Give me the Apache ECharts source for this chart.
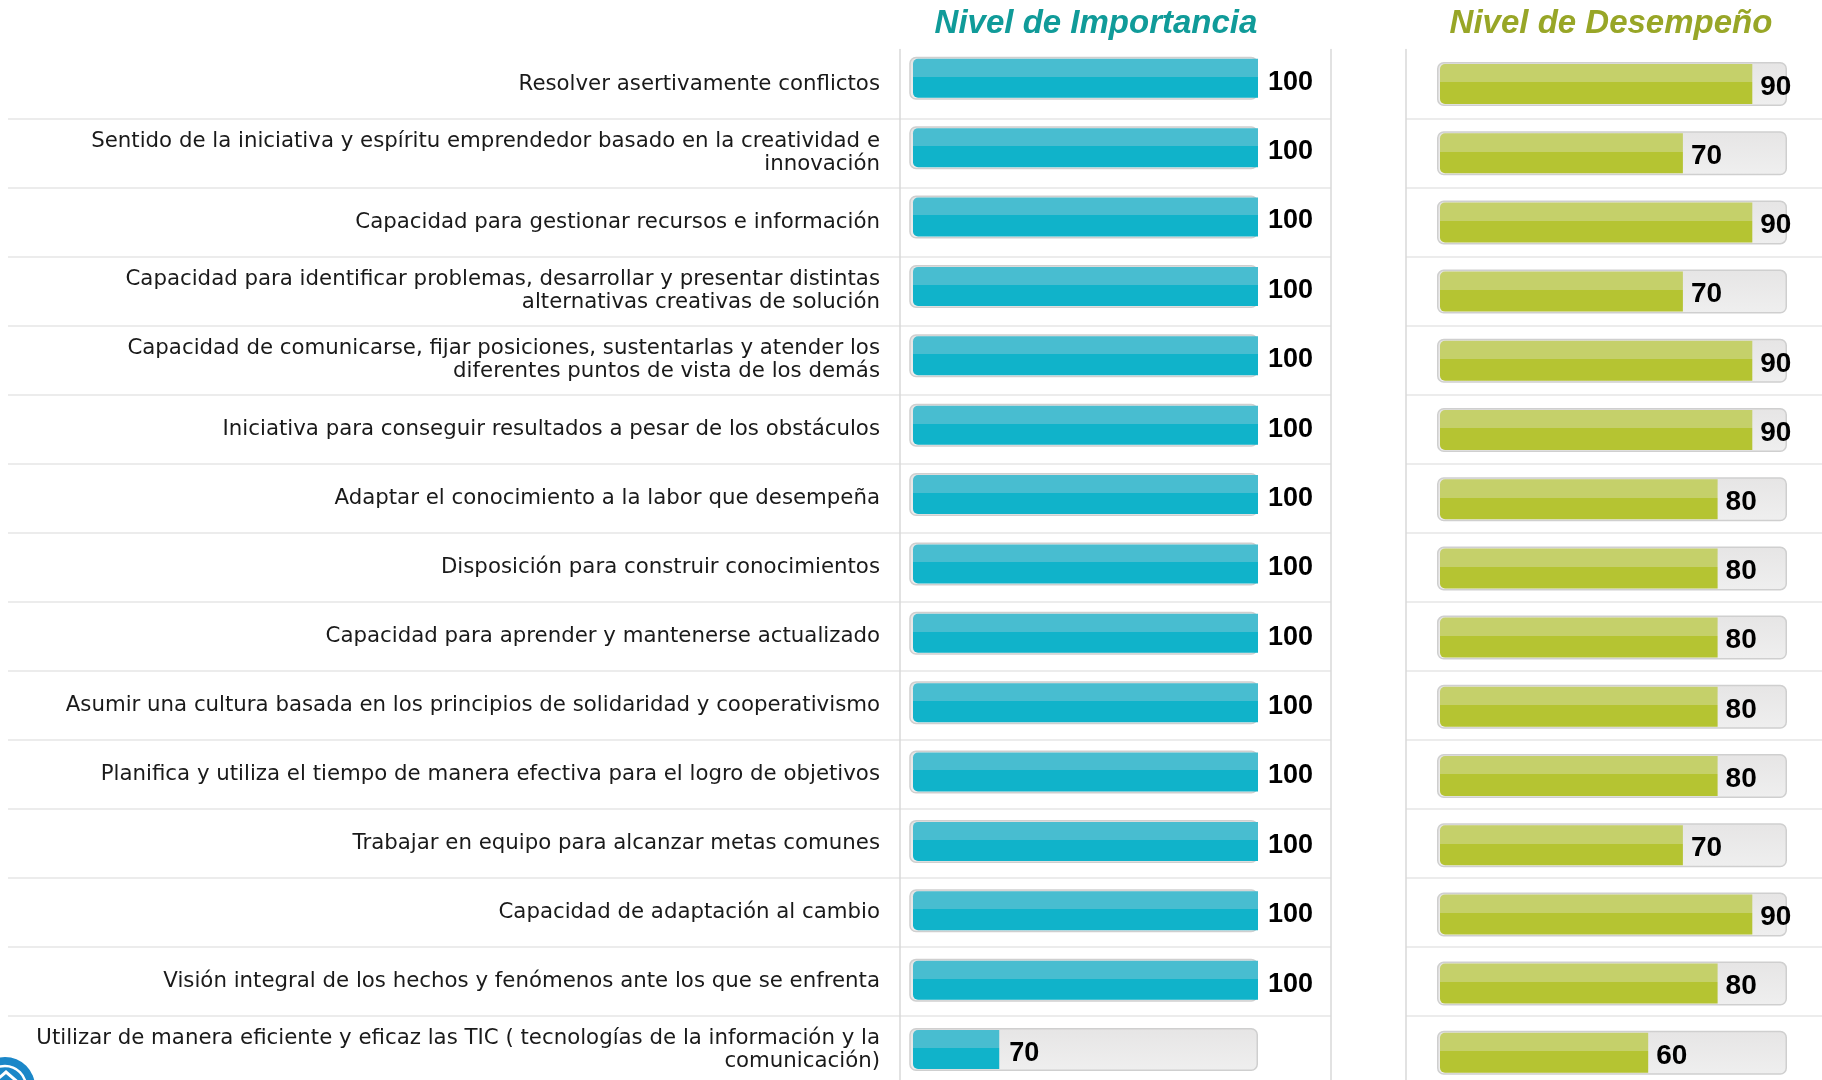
<!DOCTYPE html>
<html>
<head>
<meta charset="utf-8">
<title>Nivel de Importancia / Nivel de Desempeño</title>
<script src="https://cdn.jsdelivr.net/npm/echarts@6/dist/echarts.min.js"></script>
<style>
  html, body { margin: 0; padding: 0; background: #fff; }
  #chart { width: 1822px; height: 1080px; }
</style>
</head>
<body>
<div id="chart"></div>
<script>
// Competencias (de arriba hacia abajo)
const competencias = [
  'Resolver asertivamente conflictos',
  'Sentido de la iniciativa y espíritu emprendedor basado en la creatividad e\ninnovación',
  'Capacidad para gestionar recursos e información',
  'Capacidad para identificar problemas, desarrollar y presentar distintas\nalternativas creativas de solución',
  'Capacidad de comunicarse, fijar posiciones, sustentarlas y atender los\ndiferentes puntos de vista de los demás',
  'Iniciativa para conseguir resultados a pesar de los obstáculos',
  'Adaptar el conocimiento a la labor que desempeña',
  'Disposición para construir conocimientos',
  'Capacidad para aprender y mantenerse actualizado',
  'Asumir una cultura basada en los principios de solidaridad y cooperativismo',
  'Planifica y utiliza el tiempo de manera efectiva para el logro de objetivos',
  'Trabajar en equipo para alcanzar metas comunes',
  'Capacidad de adaptación al cambio',
  'Visión integral de los hechos y fenómenos ante los que se enfrenta',
  'Utilizar de manera eficiente y eficaz las TIC ( tecnologías de la información y la\ncomunicación)'
];

const importancia = [100, 100, 100, 100, 100, 100, 100, 100, 100, 100, 100, 100, 100, 100, 70];
const desempeno = [90, 70, 90, 70, 90, 90, 80, 80, 80, 80, 80, 70, 90, 80, 60];

// Escalas de cada panel [min, max]
const escalaImportancia = [60, 100];
const escalaDesempeno = [0, 100];

const titulos = ['Nivel de Importancia', 'Nivel de Desempeño'];

(function () {
  const chart = echarts.init(document.getElementById('chart'));

  // pistas grises: llegan hasta el máximo de cada escala
  const pistaImp = competencias.map(() => escalaImportancia[1]);
  const pistaDes = competencias.map(() => escalaDesempeno[1]);

  const lineaV = { show: true, onZero: false, lineStyle: { color: '#d9d9d9', width: 1.5 } };
  const lineaH = { show: true, showMinLine: false, showMaxLine: false, lineStyle: { color: '#e6e6e6', width: 1.5 } };

  function dosTonos(claro, oscuro) {
    return new echarts.graphic.LinearGradient(0, 0, 0, 1, [
      { offset: 0, color: claro },
      { offset: 0.46, color: claro },
      { offset: 0.46, color: oscuro },
      { offset: 1, color: oscuro }
    ]);
  }

  const estiloPista = {
    color: new echarts.graphic.LinearGradient(0, 0, 0, 1, [
      { offset: 0, color: '#e6e5e5' },
      { offset: 1, color: '#efefef' }
    ]),
    borderColor: '#cfcfcf',
    borderWidth: 1.5,
    borderRadius: 6
  };

  const etiquetaValor = (dist, dy, size) => ({
    show: true,
    position: 'right',
    distance: dist,
    offset: [0, dy],
    color: '#000',
    fontFamily: 'Liberation Sans',
    fontWeight: 'bold',
    fontSize: size
  });

  const ejeCat = (grid, extra) => Object.assign({
    type: 'category',
    gridIndex: grid,
    inverse: true,
    data: competencias,
    axisLine: { show: false, onZero: false },
    axisTick: { show: false },
    axisLabel: { show: false },
    splitLine: { show: false }
  }, extra || {});

  const ejeVal = (grid, esc) => ({
    type: 'value', gridIndex: grid, min: esc[0], max: esc[1], show: false
  });

  const option = {
    animation: false,
    backgroundColor: '#ffffff',
    grid: [
      // separadores panel izquierdo (etiquetas + importancia)
      { left: 8, top: 49.5, width: 1323, height: 1035, outerBoundsMode: 'none' },
      // separadores panel derecho
      { left: 1406, top: 49.5, right: 0, height: 1035, outerBoundsMode: 'none' },
      // importancia: pista y barra
      { left: 910, top: 43.6, width: 348, height: 1040.6, outerBoundsMode: 'none' },
      { left: 913, top: 43.6, width: 345, height: 1040.6, outerBoundsMode: 'none' },
      // desempeño: pista y barra
      { left: 1437, top: 49.4, width: 350, height: 1038, outerBoundsMode: 'none' },
      { left: 1440, top: 49.4, width: 347, height: 1038, outerBoundsMode: 'none' }
    ],
    xAxis: [
      ejeVal(0, escalaDesempeno),
      ejeVal(1, escalaDesempeno),
      ejeVal(2, escalaImportancia),
      ejeVal(3, escalaImportancia),
      ejeVal(4, escalaDesempeno),
      ejeVal(5, escalaDesempeno)
    ],
    yAxis: [
      ejeCat(0, { position: 'right', axisLine: lineaV, splitLine: lineaH }),
      ejeCat(0, {
        position: 'left',
        offset: -892,
        axisLine: lineaV,
        axisLabel: {
          show: true,
          margin: 20,
          color: '#1a1a1a',
          fontFamily: 'DejaVu Sans',
          fontSize: 21.3,
          lineHeight: 23,
          align: 'right',
          padding: [0, 0, 6, 0]
        }
      }),
      ejeCat(1, { position: 'left', axisLine: lineaV, splitLine: lineaH }),
      ejeCat(2),
      ejeCat(3),
      ejeCat(4),
      ejeCat(5)
    ],
    graphic: [
      {
        type: 'text', x: 1096, y: 24, silent: true,
        style: {
          text: titulos[0], align: 'center', verticalAlign: 'middle',
          fill: '#109b99', fontFamily: 'Liberation Sans', fontSize: 33,
          fontWeight: 'bold', fontStyle: 'italic'
        }
      },
      {
        type: 'text', x: 1611, y: 24, silent: true,
        style: {
          text: titulos[1], align: 'center', verticalAlign: 'middle',
          fill: '#98a627', fontFamily: 'Liberation Sans', fontSize: 33,
          fontWeight: 'bold', fontStyle: 'italic'
        }
      },
      // logo cortado en la esquina inferior izquierda
      {
        type: 'group', silent: true, z: 10,
        children: [
          { type: 'circle', shape: { cx: 5, cy: 1087, r: 30 }, style: { fill: '#1b87c8' } },
          { type: 'circle', shape: { cx: 5, cy: 1087, r: 21 }, style: { fill: 'none', stroke: '#ffffff', lineWidth: 2.5 } },
          { type: 'polyline', shape: { points: [[-8, 1084], [6, 1072], [20, 1084]] }, style: { fill: 'none', stroke: '#ffffff', lineWidth: 3 } }
        ]
      }
    ],
    series: [
      {
        name: 'pista importancia', type: 'bar', xAxisIndex: 2, yAxisIndex: 3,
        data: pistaImp, barWidth: 43, silent: true, itemStyle: estiloPista
      },
      {
        name: 'Nivel de Importancia', type: 'bar', xAxisIndex: 3, yAxisIndex: 4,
        data: importancia, barWidth: 39,
        itemStyle: { color: dosTonos('#48bdd0', '#10b3ca'), borderRadius: [5, 0, 0, 5] },
        label: etiquetaValor(10, 4, 27)
      },
      {
        name: 'pista desempeño', type: 'bar', xAxisIndex: 4, yAxisIndex: 5,
        data: pistaDes, barWidth: 44, silent: true, itemStyle: estiloPista
      },
      {
        name: 'Nivel de Desempeño', type: 'bar', xAxisIndex: 5, yAxisIndex: 6,
        data: desempeno, barWidth: 40,
        itemStyle: { color: dosTonos('#c5d06a', '#b5c432'), borderRadius: [5, 0, 0, 5] },
        label: etiquetaValor(8, 3, 28)
      }
    ]
  };

  chart.setOption(option);
  window.addEventListener('resize', () => chart.resize());
})();
</script>
</body>
</html>
